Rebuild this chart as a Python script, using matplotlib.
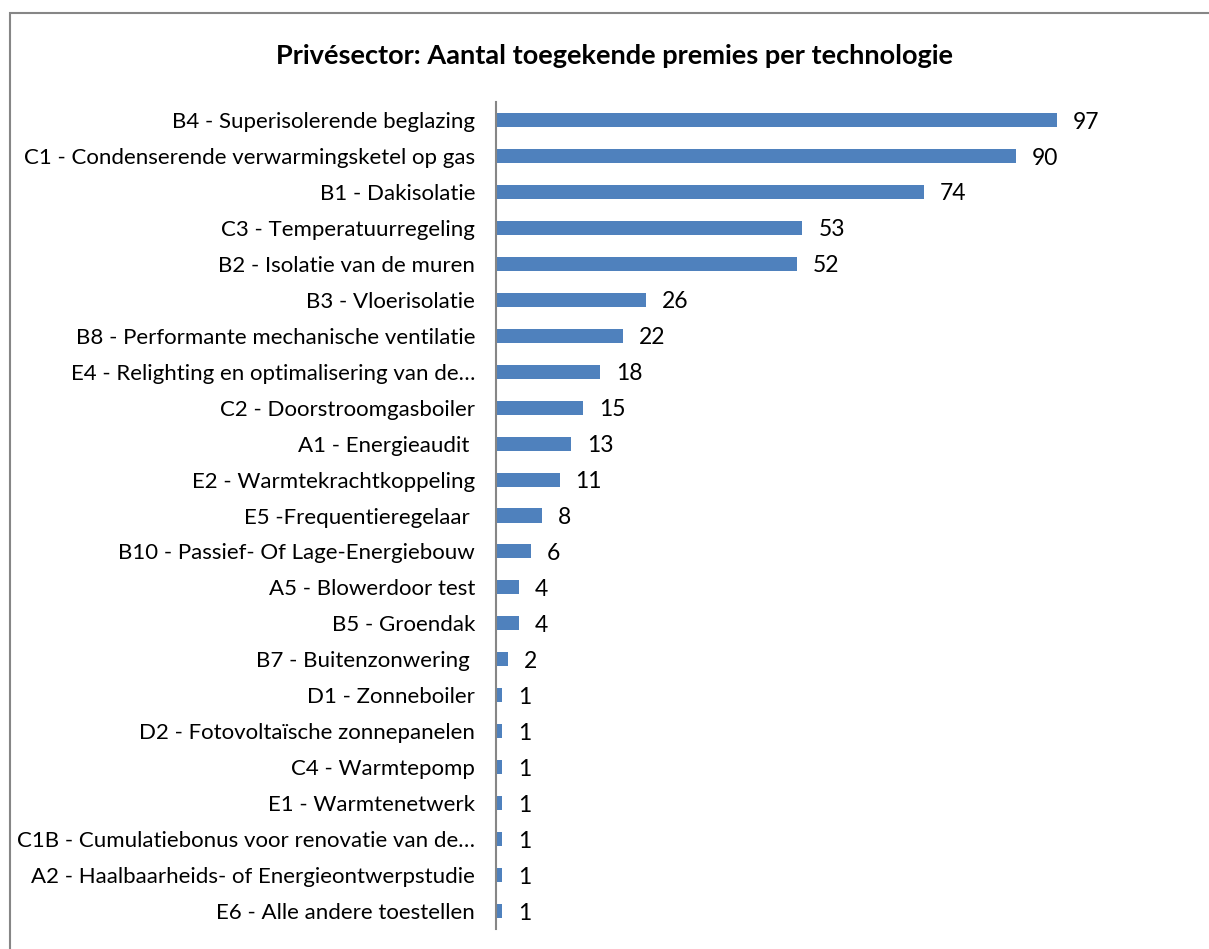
import matplotlib
matplotlib.use("Agg")
import matplotlib.pyplot as plt
from matplotlib.patches import Rectangle

categories = [
    "B4 - Superisolerende beglazing",
    "C1 - Condenserende verwarmingsketel op gas",
    "B1 - Dakisolatie",
    "C3 - Temperatuurregeling",
    "B2 - Isolatie van de muren",
    "B3 - Vloerisolatie",
    "B8 - Performante mechanische ventilatie",
    "E4 - Relighting en optimalisering van de…",
    "C2 - Doorstroomgasboiler",
    "A1 - Energieaudit ",
    "E2 - Warmtekrachtkoppeling",
    "E5 -Frequentieregelaar ",
    "B10 - Passief- Of Lage-Energiebouw",
    "A5 - Blowerdoor test",
    "B5 - Groendak",
    "B7 - Buitenzonwering ",
    "D1 - Zonneboiler",
    "D2 - Fotovoltaïsche zonnepanelen",
    "C4 - Warmtepomp",
    "E1 - Warmtenetwerk",
    "C1B - Cumulatiebonus voor renovatie van de…",
    "A2 - Haalbaarheids- of Energieontwerpstudie",
    "E6 - Alle andere toestellen",
]
values = [97, 90, 74, 53, 52, 26, 22, 18, 15, 13, 11, 8, 6, 4, 4, 2, 1, 1, 1, 1, 1, 1, 1]
title = "Privésector: Aantal toegekende premies per technologie"

plt.rcParams['font.family'] = ['Lato', 'DejaVu Sans']

W, H = 1209, 949
fig = plt.figure(figsize=(W / 100, H / 100), dpi=100)

# chart frame
fig.patches.append(Rectangle((10 / W, -0.1), 1.2, (H - 13) / H + 0.1,
                             transform=fig.transFigure, fill=False,
                             edgecolor='#868686', linewidth=1.5))

x0, x_end = 496, 496 + 5.78 * 100
y_top, y_bot = 102, 929
ax = fig.add_axes([x0 / W, (H - y_bot) / H, (x_end - x0) / W, (y_bot - y_top) / H])

ypos = list(range(len(categories)))
ax.barh(ypos, values, height=0.39, color='#4F81BD')
ax.set_ylim(len(categories) - 0.5, -0.5)
ax.set_xlim(0, 100)
ax.set_yticks(ypos)
ax.set_yticklabels(categories, fontsize=16, color='#000000')
ax.tick_params(axis='y', length=0, pad=15)
ax.set_xticks([])
for s in ['top', 'right', 'bottom']:
    ax.spines[s].set_visible(False)
ax.spines['left'].set_color('#868686')
ax.spines['left'].set_linewidth(1.5)

for y, v in zip(ypos, values):
    ax.annotate(str(v), (v, y), xytext=(11.5, -1.5), textcoords='offset points',
                va='center', ha='left', fontsize=16.5, color='#000000')

fig.text((272 + 957) / 2 / W, (H - 56) / H, title, ha='center', va='center',
         fontsize=19.5, fontweight='bold')

fig.savefig('out.png', dpi=100)
